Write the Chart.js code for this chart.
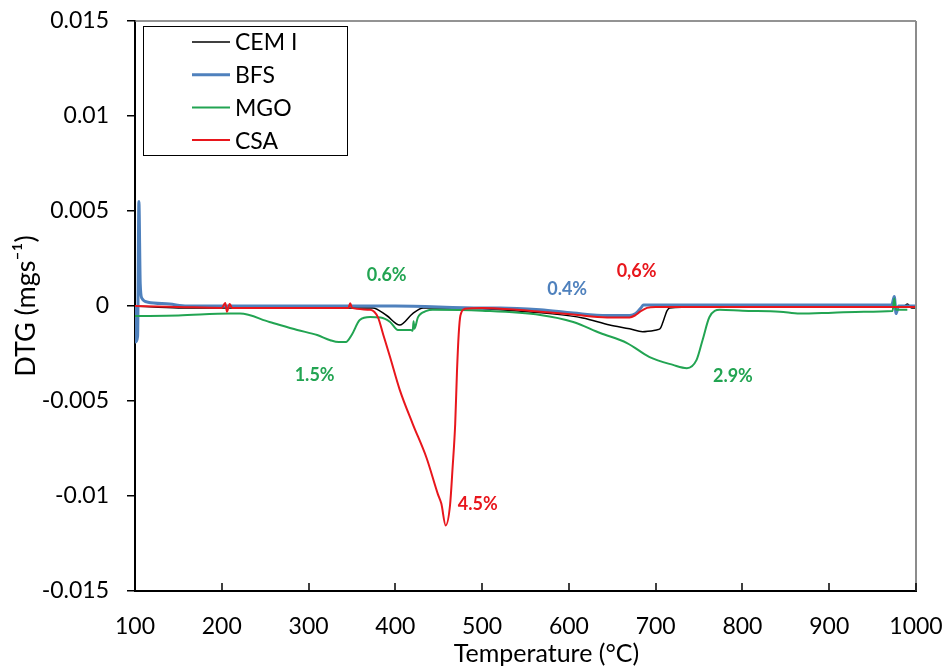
<!DOCTYPE html>
<html>
<head>
<meta charset="utf-8">
<script src="https://cdn.jsdelivr.net/npm/chart.js@4.4.1/dist/chart.umd.min.js"></script>
<style>
	html, body { margin: 0; padding: 0; background: #fff; }
	#wrap { width: 949px; height: 669px; }
</style>
</head>
<body>
<div id="wrap"><canvas id="dtg" width="949" height="669"></canvas></div>
<script>
// ----- ----- -----
// data
// ----- ----- -----

const seriesNames = ['CEM I', 'BFS', 'MGO', 'CSA'];

const cemT = [100, 150, 200, 250, 300, 350, 374, 390, 405, 420, 432, 460, 500, 521, 578, 616, 647, 670, 685, 701, 705, 708, 711, 713, 716, 750, 800, 900, 985, 990, 995, 1000];
const cemV = [0, -0.0001, -0.0001, -0.0001, -0.0001, -0.0001, -0.0001, -0.0005, -0.001, -0.0004, -0.0001, -0.0001, -0.00015, -0.0002, -0.0004, -0.00063, -0.001, -0.0012, -0.00135, -0.00126, -0.0012, -0.0009, -0.0005, -0.00026, -0.0001, -0.00005, -0.00005, -0.00005, -0.00005, 0.0001, -0.0001, -0.0001];

const bfsT = [100, 100.5, 103, 104.5, 106, 108, 115, 140, 160, 300, 400, 500, 521, 567, 605, 644, 670, 677, 683, 686, 700, 800, 900, 972, 975, 977, 980, 1000];
const bfsV = [0, -0.0019, -0.0016, 0.0055, 0.0012, 0.0004, 0.0002, 0.0001, 0, 0, 0, -0.0001, -0.0001, -0.0002, -0.00037, -0.0005, -0.0005, -0.0004, -0.0001, 0.00005, 0.00005, 0.00005, 0.00005, 0.00005, 0.0005, -0.0004, 0, 0];

const mgoT = [100, 150, 210, 221, 255, 287, 310, 325, 335, 343, 350, 359, 371, 383, 394, 403, 418, 420, 421, 422, 426, 436, 443, 500, 567, 605, 636, 667, 693, 720, 736, 747, 754, 762, 774, 800, 843, 866, 904, 940, 973, 975, 977, 990];
const mgoV = [-0.00053, -0.0005, -0.0004, -0.0004, -0.00084, -0.00126, -0.00153, -0.0018, -0.0019, -0.0019, -0.0015, -0.00074, -0.00058, -0.0006, -0.00084, -0.00126, -0.00126, -0.0013, -0.0008, -0.0012, -0.0006, -0.00026, -0.0002, -0.00025, -0.00047, -0.00084, -0.00142, -0.00195, -0.00269, -0.0031, -0.00327, -0.00285, -0.0018, -0.00058, -0.0002, -0.00025, -0.0003, -0.0004, -0.00035, -0.0003, -0.00026, 0.0004, -0.0002, -0.0002];

const csaT = [100, 150, 200, 204, 206, 209, 212, 250, 300, 346, 348, 350, 371, 380, 386, 394, 405, 420, 436, 449, 453, 458, 463, 466, 469, 471, 473, 475, 480, 500, 540, 567, 605, 644, 670, 676, 682, 690, 700, 800, 900, 1000];
const csaV = [0, -0.00005, -0.0001, 0.00016, -0.0003, 0.0001, -0.0001, -0.0001, -0.0001, -0.0001, 0.00015, -0.0001, -0.0002, -0.0006, -0.0015, -0.0027, -0.0044, -0.0062, -0.008, -0.0099, -0.0104, -0.01155, -0.0105, -0.0085, -0.0062, -0.0035, -0.0015, -0.0005, -0.00015, -0.0001, -0.0002, -0.0003, -0.00045, -0.0006, -0.0006, -0.0005, -0.0003, -0.0001, -0.00005, -0.00005, -0.00005, -0.00005];

const xTicks = [100, 200, 300, 400, 500, 600, 700, 800, 900, 1000];
const xTickLabels = ['100', '200', '300', '400', '500', '600', '700', '800', '900', '1000'];
const yTicks = [0.015, 0.01, 0.005, 0, -0.005, -0.01, -0.015];
const yTickLabels = ['0.015', '0.01', '0.005', '0', '-0.005', '-0.01', '-0.015'];

// mass loss labels: text, temperature, DTG, series they belong to
const annoText = ['0.6%', '1.5%', '0.4%', '0,6%', '2.9%', '4.5%'];
const annoT = [390, 307, 598, 678, 789, 495];
const annoV = [0.00164, -0.00364, 0.0009, 0.00185, -0.0037, -0.01044];
const annoSeries = [2, 2, 1, 3, 2, 3];

// ----- ----- -----
// styles
// ----- ----- -----

const fontFamily = 'Lato, "Open Sans", "DejaVu Sans", sans-serif';
const colors = ['#000000', '#4f81bd', '#22a452', '#e8161c'];
const widths = [1.5, 3, 2, 2];
const drawOrder = [3, 2, 1, 0];

function toPoints(xs, ys) {
	return xs.map((x, i) => ({x: x, y: ys[i]}));
}

function labelFor(ticks, labels, value) {
	const idx = ticks.findIndex((t) => Math.abs(t - value) < 1e-9);
	return idx >= 0 ? labels[idx] : '';
}

const seriesPoints = [
	toPoints(cemT, cemV),
	toPoints(bfsT, bfsV),
	toPoints(mgoT, mgoV),
	toPoints(csaT, csaV)
];

// frame, inward x ticks, legend box, labels
const extrasPlugin = {
	id: 'extras',
	afterDatasetsDraw(chart) {
		const ctx = chart.ctx;
		const area = chart.chartArea;
		const xs = chart.scales.x;
		const ys = chart.scales.y;

		ctx.save();

		// top and right frame
		ctx.strokeStyle = '#6f6f6f';
		ctx.lineWidth = 1.5;
		ctx.beginPath();
		ctx.moveTo(area.left, area.top);
		ctx.lineTo(area.right, area.top);
		ctx.stroke();
		ctx.strokeStyle = '#8c8c8c';
		ctx.lineWidth = 2;
		ctx.beginPath();
		ctx.moveTo(area.right, area.top);
		ctx.lineTo(area.right, area.bottom);
		ctx.stroke();

		// x ticks pointing inward
		ctx.strokeStyle = '#000';
		ctx.lineWidth = 1.5;
		xTicks.forEach((t) => {
			const px = Math.round(xs.getPixelForValue(t));
			ctx.beginPath();
			ctx.moveTo(px, area.bottom);
			ctx.lineTo(px, area.bottom - 8);
			ctx.stroke();
		});

		// mass loss labels
		ctx.font = 'bold 18px ' + fontFamily;
		ctx.textAlign = 'center';
		ctx.textBaseline = 'middle';
		annoText.forEach((txt, i) => {
			ctx.fillStyle = colors[annoSeries[i]];
			ctx.fillText(txt, xs.getPixelForValue(annoT[i]), ys.getPixelForValue(annoV[i]));
		});

		// legend box
		const lx = area.left + 8;
		const ly = area.top + 5;
		ctx.fillStyle = '#fff';
		ctx.fillRect(lx, ly, 204, 129);
		ctx.strokeStyle = '#000';
		ctx.lineWidth = 1;
		ctx.strokeRect(lx + 0.5, ly + 0.5, 204, 129);
		ctx.font = '23px ' + fontFamily;
		ctx.textAlign = 'left';
		seriesNames.forEach((name, i) => {
			const ry = ly + 16 + i * 32.7;
			ctx.strokeStyle = colors[i];
			ctx.lineWidth = widths[i];
			ctx.beginPath();
			ctx.moveTo(lx + 49, ry);
			ctx.lineTo(lx + 87, ry);
			ctx.stroke();
			ctx.fillStyle = '#000';
			ctx.fillText(name, lx + 92, ry + 1);
		});

		// x axis title, sits a bit right of centre
		ctx.font = '25px ' + fontFamily;
		ctx.textAlign = 'center';
		ctx.fillStyle = '#000';
		ctx.fillText('Temperature (°C)', (area.left + area.right) / 2 + 21, 654);

		ctx.restore();
	}
};

const dtgChart = new Chart('dtg', {
	type: 'line',
	data: {
		datasets: seriesPoints.map((pts, i) => ({
			label: seriesNames[i],
			data: pts,
			borderColor: colors[i],
			borderWidth: widths[i],
			pointRadius: 0,
			fill: false,
			cubicInterpolationMode: 'monotone',
			order: drawOrder[i]
		}))
	},
	options: {
		responsive: false,
		animation: false,
		devicePixelRatio: 1,
		layout: {
			padding: {top: 21, right: 33, bottom: 0, left: 0}
		},
		plugins: {
			legend: {display: false},
			tooltip: {enabled: false}
		},
		scales: {
			x: {
				type: 'linear',
				min: 100,
				max: 1000,
				afterFit: (s) => { s.height = 78; s.paddingLeft = 0; s.paddingRight = 0; },
				afterBuildTicks: (s) => { s.ticks = xTicks.map((v) => ({value: v})); },
				grid: {display: true, drawOnChartArea: false, drawTicks: false},
				border: {display: true, color: '#000', width: 2},
				ticks: {
					color: '#000',
					padding: 22,
					maxRotation: 0,
					font: {family: fontFamily, size: 23},
					callback: (value) => labelFor(xTicks, xTickLabels, value)
				}
			},
			y: {
				type: 'linear',
				min: -0.015,
				max: 0.015,
				afterFit: (s) => { s.width = 135; s.paddingTop = 0; s.paddingBottom = 0; },
				afterBuildTicks: (s) => { s.ticks = yTicks.map((v) => ({value: v})); },
				grid: {display: true, drawOnChartArea: false, drawTicks: true, tickLength: 8, color: '#000', lineWidth: 1.5},
				border: {display: true, color: '#000', width: 2},
				ticks: {
					color: '#000',
					padding: 18,
					font: {family: fontFamily, size: 23},
					callback: (value) => labelFor(yTicks, yTickLabels, value)
				},
				title: {
					display: true,
					text: 'DTG (mgs⁻¹)',
					color: '#000',
					font: {family: fontFamily, size: 27},
					padding: {top: 10, bottom: 0}
				}
			}
		}
	},
	plugins: [extrasPlugin]
});
</script>
</body>
</html>
